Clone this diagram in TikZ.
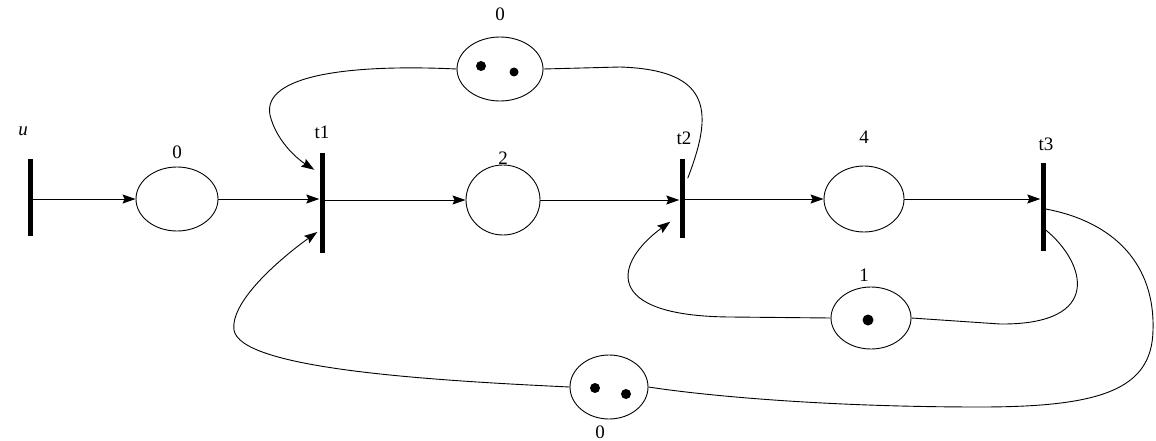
\documentclass[tikz,border=0pt]{standalone}
\usepackage{fontspec}
\setmainfont{Liberation Serif}
\usetikzlibrary{shapes.geometric,arrows.meta,calc}
\begin{document}
\begin{tikzpicture}[x=1pt,y=-1pt,
 place/.style={draw,ellipse,line width=0.9pt,inner sep=0pt},
 trans/.style={fill=black,rectangle,inner sep=0pt,minimum width=5pt},
 lbl/.style={font=\fontsize{19}{19}\selectfont,inner sep=0pt},
 arc/.style={line width=0.9pt,-{Stealth[length=13pt,width=9pt,inset=2pt]}},
 plainarc/.style={line width=0.9pt},
 tok/.style={fill=black}]
\useasboundingbox (0,0) rectangle (1156,441);
% transitions
\node[trans,minimum height=77pt] (u) at (30,197) {};
\node[trans,minimum height=100pt] (t1) at (322,203) {};
\node[trans,minimum height=79pt] (t2) at (682,198) {};
\node[trans,minimum height=88pt] (t3) at (1043,207) {};
% places
\node[place,minimum width=82pt,minimum height=64pt] (p0) at (177,199) {};
\node[place,minimum width=74pt,minimum height=70pt] (p2) at (503,200) {};
\node[place,minimum width=80pt,minimum height=66pt] (p4) at (864,199) {};
\node[place,minimum width=86pt,minimum height=64pt] (ptop) at (500,69) {};
\node[place,minimum width=80pt,minimum height=62pt] (p1) at (871,318) {};
\node[place,minimum width=78pt,minimum height=64pt] (pb) at (609,387) {};
% tokens
\fill[tok] (481,66) circle[radius=5pt];
\fill[tok] (514,72) circle[radius=4.5pt];
\fill[tok] (868,320) circle[radius=5.5pt];
\fill[tok] (595,388) circle[radius=5pt];
\fill[tok] (626,394) circle[radius=5pt];
% labels
\node[lbl] (lu) at (23,131) {\textit{u}};
\node[lbl] (lt1) at (322,132) {t1};
\node[lbl] (lt2) at (684,138) {t2};
\node[lbl] (lt3) at (1046,144) {t3};
\node[lbl] (l0) at (177,152) {0};
\node[lbl] (l2) at (503,158) {2};
\node[lbl] (l4) at (864,137) {4};
\node[lbl] (ltop) at (500,14) {0};
\node[lbl] (l1) at (864,275) {1};
\node[lbl] (lb) at (600,432) {0};
% straight arcs
\draw[arc] (u.east |- p0) -- (p0.west);
\draw[arc] (p0.east) -- (p0.east -| t1.west);
\draw[arc] (t1.east |- p2) -- (p2.west);
\draw[arc] (p2.east) -- (p2.east -| t2.west);
\draw[arc] (t2.east |- p4) -- (p4.west);
\draw[arc] (p4.east) -- (p4.east -| t3.west);
% curved arcs
\draw[arc] (ptop.west) .. controls (350,64) and (262,75) .. (270,115)
  .. controls (276,140) and (296,158) .. ([xshift=-5pt,yshift=-17pt]t1.north west);
\draw[plainarc] ([xshift=3pt,yshift=-20pt]t2.north east) .. controls (712,115) and (715,70) .. (620,67) -- (ptop.east);
\draw[arc] (p1.west) -- (730,317) .. controls (600,316) and (615,262) .. ([xshift=-9pt,yshift=16pt]t2.south west);
\draw[plainarc] ([yshift=-23pt]t3.east) .. controls (1085,262) and (1105,325) .. (1000,324) -- (p1.east);
\draw[plainarc] ([yshift=-2pt]t3.east) .. controls (1115,222) and (1155,265) .. (1153,330)
  .. controls (1152,390) and (1100,407) .. (980,407) .. controls (820,407) and (700,395) .. (pb.east);
\draw[arc] (pb.west) .. controls (420,380) and (240,368) .. (234,330)
  .. controls (230,300) and (285,255) .. ([xshift=-2pt,yshift=-29pt]t1.west);
\end{tikzpicture}
\end{document}
